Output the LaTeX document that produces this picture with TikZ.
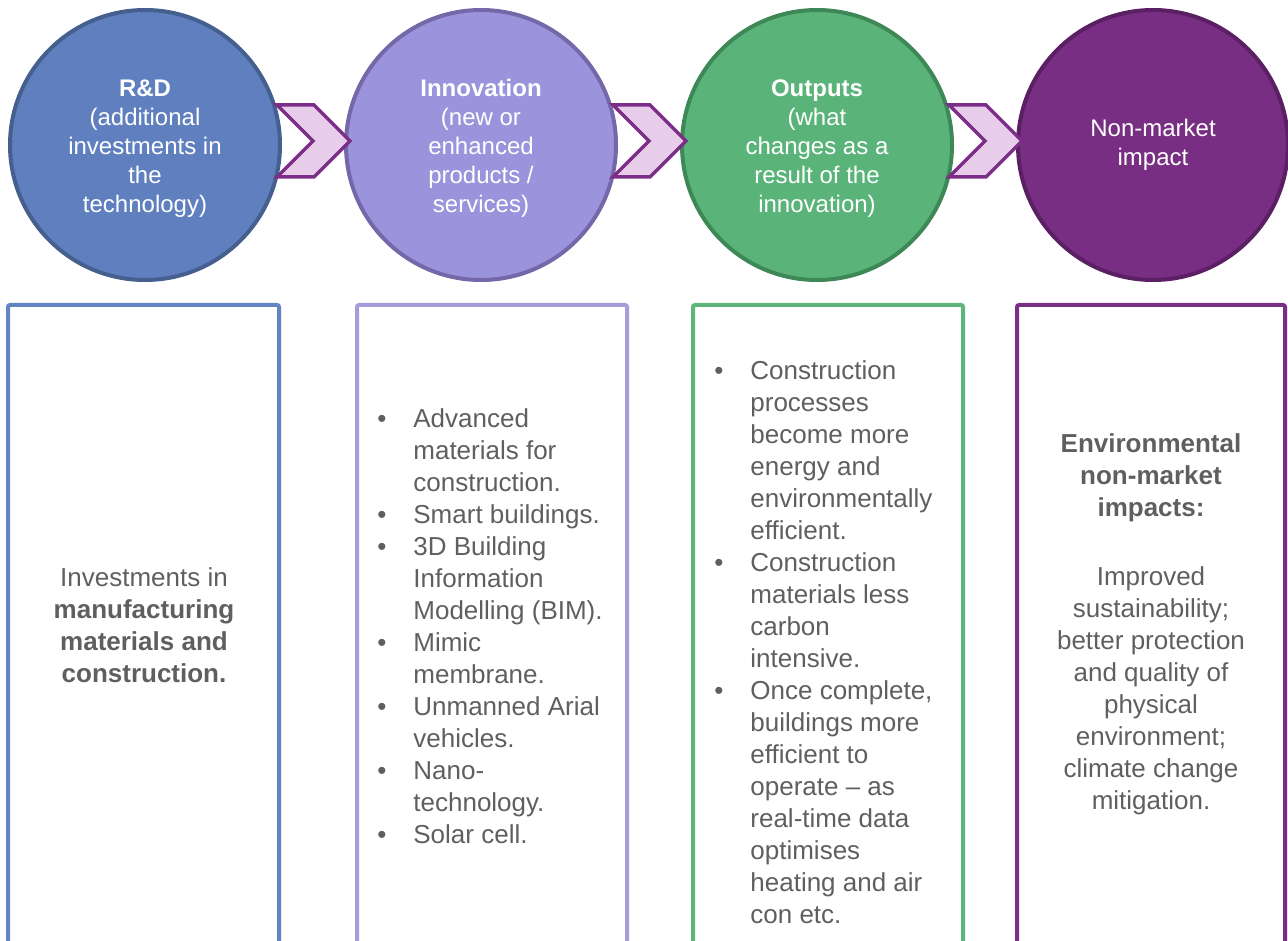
\documentclass[tikz,border=0pt]{standalone}
\usepackage{fontspec}
\setmainfont{Liberation Sans}
\usetikzlibrary{positioning, calc}

\definecolor{rdfill}{HTML}{5F7FBF}
\definecolor{rdline}{HTML}{45608F}
\definecolor{rdbox}{HTML}{6483C3}
\definecolor{innovfill}{HTML}{9B93DB}
\definecolor{innovline}{HTML}{7468A9}
\definecolor{innovbox}{HTML}{A59CDC}
\definecolor{outfill}{HTML}{5AB47A}
\definecolor{outline}{HTML}{3E8756}
\definecolor{outbox}{HTML}{5DB57B}
\definecolor{impfill}{HTML}{782E82}
\definecolor{impline}{HTML}{5B1F63}
\definecolor{impbox}{HTML}{7B2E86}
\definecolor{chevfill}{HTML}{E8CDEB}
\definecolor{chevline}{HTML}{7B2D87}
\definecolor{bodygray}{HTML}{5F5F5F}

\newcommand{\itemdot}{\raisebox{0pt}{\fontsize{26}{26}\selectfont\textbullet}}

\begin{document}
\begin{tikzpicture}[
            x = 1pt, y = -1pt, % pixel-like units, y downwards
            node distance = 336pt, % distance between circle centres
            thick
        ]

        \tikzstyle{stage}=[
            circle,
            line width = 4pt,
            minimum size = 270pt,
            inner sep = 0pt,
            text = white,
            align = center,
            font = \fontsize{24}{29}\selectfont
        ]
        \tikzstyle{chev}=[
            draw = chevline,
            fill = chevfill,
            line width = 3.5pt
        ]
        \tikzstyle{panel}=[
            rectangle,
            line width = 4pt,
            rounded corners = 2pt,
            minimum height = 700pt,
            anchor = north
        ]
        \tikzstyle{body}=[
            text = bodygray,
            inner sep = 0pt,
            font = \fontsize{26}{32}\selectfont
        ]

        \useasboundingbox (0,0) rectangle (1288,941);
        \clip (0,0) rectangle (1288,941);

        \node[stage, fill=rdfill, draw=rdline] (rd) at (145,145)
            {\\[-6pt]\textbf{R\&D}\\(additional\\investments in\\the\\technology)};
        \node[stage, fill=innovfill, draw=innovline] (innov) [right of=rd]
            {\\[-6pt]\textbf{Innovation}\\(new or\\enhanced\\products /\\services)};
        \node[stage, fill=outfill, draw=outline] (outputs) [right of=innov]
            {\\[-6pt]\textbf{Outputs}\\(what\\changes as a\\result of the\\innovation)};
        \node[stage, fill=impfill, draw=impline] (impact) [right of=outputs]
            {Non-market\\impact};

        \foreach \a/\b in {rd/innov, innov/outputs, outputs/impact}
            \draw[chev] ($(\a)!0.5!(\b)+(0,-4)$) ++(-36,-36) -- ++(37,0)
                -- ++(36,36) -- ++(-36,36) -- ++(-37,0) -- ++(36,-36) -- cycle;

        \node[panel, draw=rdbox, minimum width=271pt] (panel1) at (143.5,303) {};
        \node[panel, draw=innovbox, minimum width=270pt] (panel2) at (492,303) {};
        \node[panel, draw=outbox, minimum width=270pt] (panel3) at (828,303) {};
        \node[panel, draw=impbox, minimum width=268pt] (panel4) at (1151,303) {};

        \node[body, align=center] (rdtext) at (144,625)
            {Investments in\\\textbf{manufacturing}\\\textbf{materials and}\\\textbf{construction.}};

        \node[body, anchor=north west] (innovtext) at (377,405) {%
            \begin{tabular}{@{}p{36pt}@{}l@{}}
                \itemdot & Advanced\\
                 & materials for\\
                 & construction.\\
                \itemdot & Smart buildings.\\
                \itemdot & 3D Building\\
                 & Information\\
                 & Modelling (BIM).\\
                \itemdot & Mimic\\
                 & membrane.\\
                \itemdot & Unmanned Arial\\
                 & vehicles.\\
                \itemdot & Nano-\\
                 & technology.\\
                \itemdot & Solar cell.
            \end{tabular}};

        \node[body, anchor=north west] (outtext) at (714,357) {%
            \begin{tabular}{@{}p{36pt}@{}l@{}}
                \itemdot & Construction\\
                 & processes\\
                 & become more\\
                 & energy and\\
                 & environmentally\\
                 & efficient.\\
                \itemdot & Construction\\
                 & materials less\\
                 & carbon\\
                 & intensive.\\
                \itemdot & Once complete,\\
                 & buildings more\\
                 & efficient to\\
                 & operate -- as\\
                 & real-time data\\
                 & optimises\\
                 & heating and air\\
                 & con etc.
            \end{tabular}};

        \node[body, align=center, anchor=north] (imptext) at (1151,433)
            {\textbf{Environmental}\\\textbf{non-market}\\\textbf{impacts:}\\[37pt]Improved\\sustainability;\\better protection\\and quality of\\physical\\environment;\\climate change\\mitigation.};

  \end{tikzpicture}
\end{document}
